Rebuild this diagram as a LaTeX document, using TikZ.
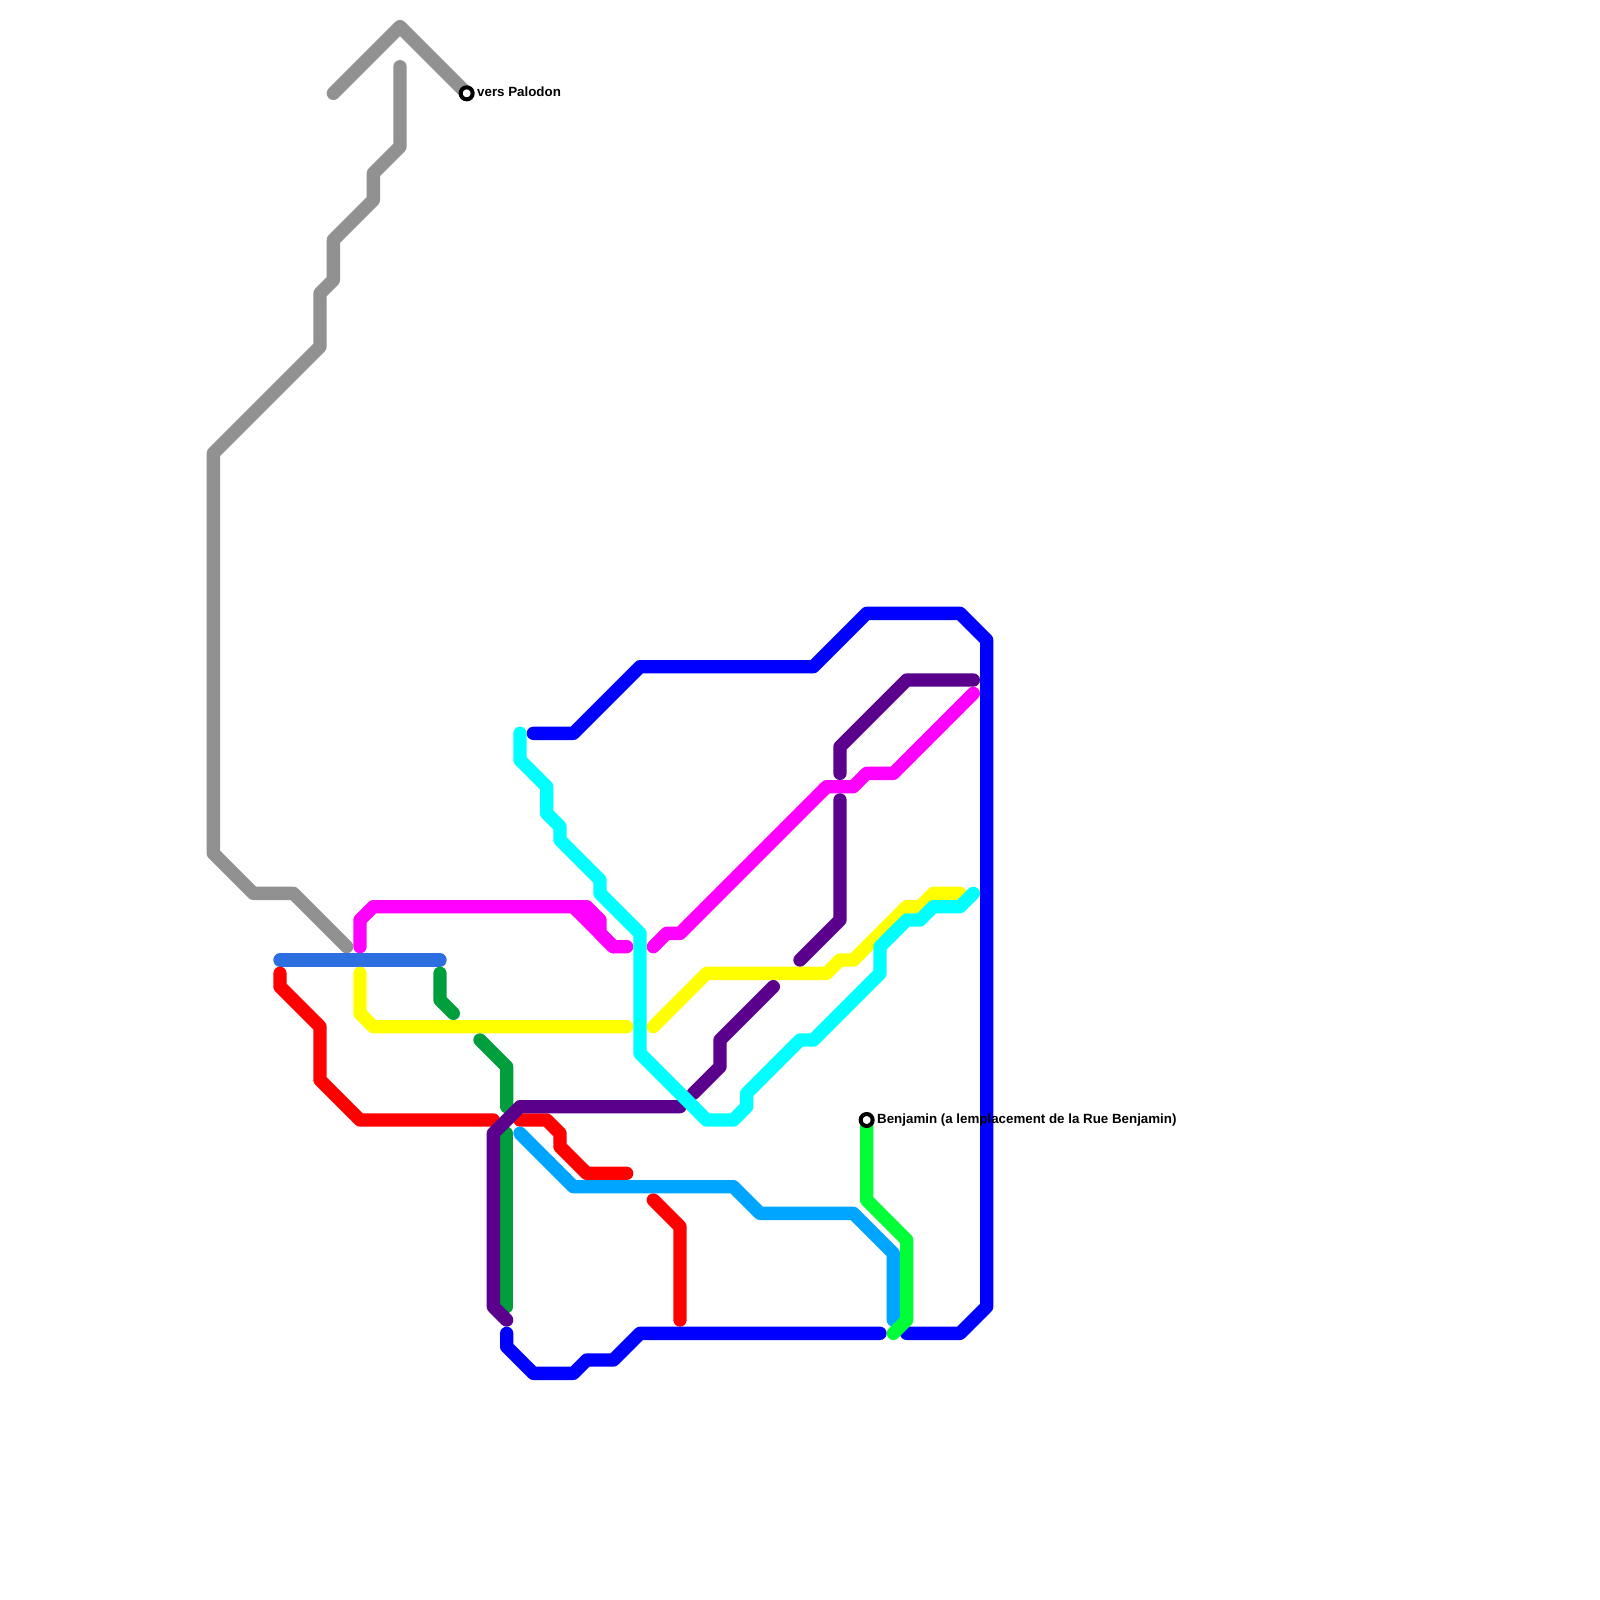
\documentclass[tikz,border=0pt]{standalone}
\usepackage{fontspec}
\setmainfont{Liberation Sans}
\definecolor{cgray}{HTML}{919191}
\definecolor{cmag}{HTML}{FF00FF}
\definecolor{cpurple}{HTML}{5A008C}
\definecolor{ccyan}{HTML}{00FFFF}
\definecolor{cblue}{HTML}{0000FF}
\definecolor{csteel}{HTML}{2D6FE0}
\definecolor{cred}{HTML}{FF0000}
\definecolor{cyel}{HTML}{FFFF00}
\definecolor{cdkgreen}{HTML}{009E3D}
\definecolor{csky}{HTML}{00A5FF}
\definecolor{cbright}{HTML}{00FF37}
\tikzset{
  metro/.style={line width=10pt,line cap=round,line join=round},
  stationdot/.style={circle,draw=black,fill=white,line width=3pt,outer sep=0pt,minimum size=9pt,inner sep=0pt},
  stationlabel/.style={anchor=base west,inner sep=0pt,font=\fontsize{10}{12}\selectfont\bfseries}
}
\begin{document}
\begin{tikzpicture}[x=10pt,y=-10pt]
\useasboundingbox (0,0) rectangle (120,120);
% grey
\draw[metro,cgray] (25,7) -- (30,2) -- (35,7);
\draw[metro,cgray] (30,5) -- (30,11) -- (28,13) -- (28,15) -- (25,18) -- (25,21) -- (24,22) -- (24,26) -- (16,34) -- (16,64) -- (19,67) -- (22,67) -- (26,71);
% steel blue
\draw[metro,csteel] (21,72) -- (33,72);
% dark green
\draw[metro,cdkgreen] (33,73) -- (33,75) -- (34,76);
% yellow
\draw[metro,cyel] (27,73) -- (27,76) -- (28,77) -- (47,77);
\draw[metro,cyel] (49,77) -- (53,73) -- (62,73) -- (63,72) -- (64,72) -- (68,68) -- (69,68) -- (70,67) -- (72,67);
% magenta
\draw[metro,cmag] (27,71) -- (27,69) -- (28,68) -- (44,68) -- (45,69) -- (45,70) -- (46,71) -- (47,71);
\draw[metro,cmag] (43,68) -- (46,71);
\draw[metro,cmag] (49,71) -- (50,70) -- (51,70) -- (62,59) -- (64,59) -- (65,58) -- (67,58) -- (73,52);
% red
\draw[metro,cred] (21,73) -- (21,74) -- (24,77) -- (24,81) -- (27,84) -- (37,84);
\draw[metro,cred] (39,84) -- (41,84) -- (42,85) -- (42,86) -- (44,88) -- (47,88);
\draw[metro,cred] (49,90) -- (51,92) -- (51,99);
% dark green, continued
\draw[metro,cdkgreen] (36,78) -- (38,80) -- (38,83);
\draw[metro,cdkgreen] (38,85) -- (38,98);
% purple
\draw[metro,cpurple] (51,83) -- (39,83) -- (37,85) -- (37,98) -- (38,99);
\draw[metro,cpurple] (52,82) -- (54,80) -- (54,78) -- (58,74);
\draw[metro,cpurple] (60,72) -- (63,69) -- (63,60);
\draw[metro,cpurple] (63,58) -- (63,56) -- (68,51) -- (73,51);
% blue
\draw[metro,cblue] (40,55) -- (43,55) -- (48,50) -- (61,50) -- (65,46) -- (72,46) -- (74,48) -- (74,98) -- (72,100) -- (68,100);
\draw[metro,cblue] (38,100) -- (38,101) -- (40,103) -- (43,103) -- (44,102) -- (46,102) -- (48,100) -- (66,100);
% sky blue
\draw[metro,csky] (39,85) -- (43,89) -- (55,89) -- (57,91) -- (64,91) -- (67,94) -- (67,99);
% bright green
\draw[metro,cbright] (65,84) -- (65,90) -- (68,93) -- (68,99) -- (67,100);
% cyan
\draw[metro,ccyan] (39,55) -- (39,57) -- (41,59) -- (41,61) -- (42,62) -- (42,63) -- (45,66) -- (45,67) -- (48,70) -- (48,79) -- (53,84) -- (55,84) -- (56,83) -- (56,82) -- (60,78) -- (61,78) -- (66,73) -- (66,71) -- (68,69) -- (69,69) -- (70,68) -- (72,68) -- (73,67);
% stations
\node[stationdot] (palodon) at (35,7) {};
\node[stationdot] (benjamin) at (65,84) {};
\node[stationlabel] (palodonlabel) at (35.77,7.2) {vers Palodon};
\node[stationlabel] (benjaminlabel) at (65.77,84.26) {Benjamin (a lemplacement de la Rue Benjamin)};
\end{tikzpicture}
\end{document}
